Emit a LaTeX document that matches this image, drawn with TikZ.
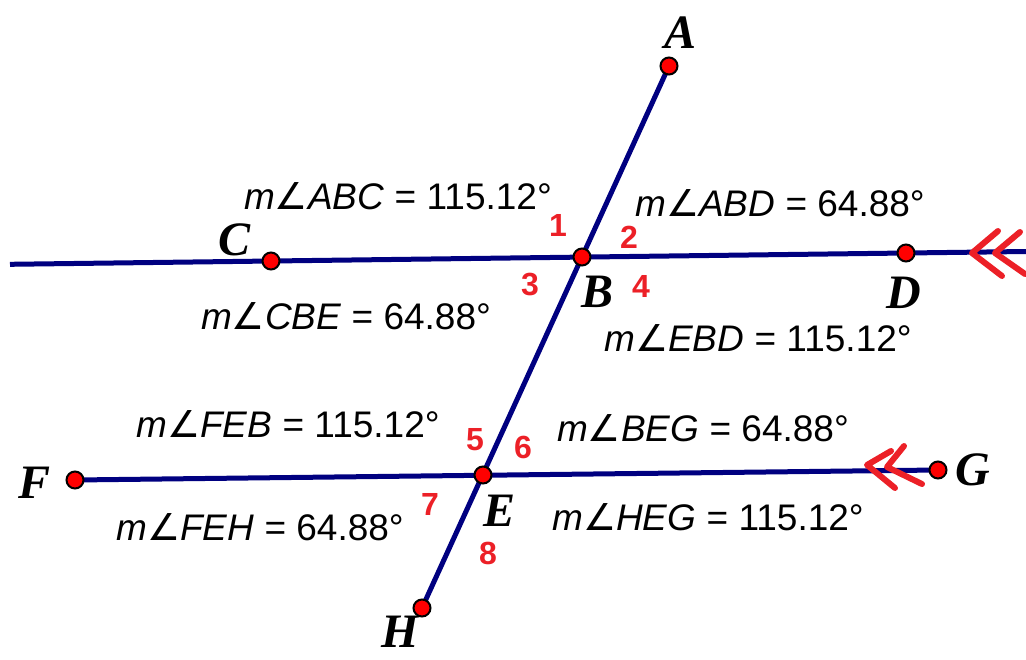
\documentclass[tikz,border=0pt]{standalone}
\usepackage{fontspec}
\setmainfont{Liberation Sans}
\newfontfamily\ptfont{Liberation Serif}
\newfontfamily\angfont{DejaVu Sans}
\usetikzlibrary{positioning}
\definecolor{plNavy}{HTML}{000080}
\definecolor{plRed}{HTML}{FF0000}
\definecolor{plMark}{HTML}{EC2027}
\newcommand{\mang}[2]{\textit{m}{\angfont\itshape ∠}\textit{#1} = #2°}
\tikzset{
  pl line/.style={draw=plNavy, line width=5pt},
  pl point/.style={circle, fill=plRed, draw=black, line width=2pt,
    minimum size=17pt, inner sep=0pt},
  pl name/.style={font=\ptfont\bfseries\itshape\fontsize{48}{48}\selectfont, inner sep=0pt},
  pl measure/.style={font=\fontsize{37}{40}\selectfont},
  pl index/.style={font=\bfseries\fontsize{32}{32}\selectfont, text=plMark},
  pl parallel/.style={draw=plMark, line width=6pt, line cap=round, line join=round}
}

\begin{document}
\begin{tikzpicture}[x=1pt,y=-1pt]
  \useasboundingbox (0,0) rectangle (1026,659);

  % points of the figure
  \coordinate (A) at (669,66);
  \coordinate (B) at (582,257);
  \coordinate (C) at (271,261);
  \coordinate (D) at (906,253);
  \coordinate (E) at (483,475);
  \coordinate (F) at (75,480);
  \coordinate (G) at (938,470);
  \coordinate (H) at (422,608);
  \coordinate (cdL) at (10,264.3);
  \coordinate (cdR) at (1026,251.5);

  % the two parallels and the transversal
  \draw[pl line] (cdL) -- (cdR);
  \draw[pl line] (F) -- (G);
  \draw[pl line] (A) -- (H);

  % parallel marks
  \draw[pl parallel] (998,231) -- (972,253) -- (1002,276);
  \draw[pl parallel] (1020,232) -- (995,253) -- (1025,274);
  \draw[pl parallel] (891,451) -- (867,465) -- (895,488);
  \draw[pl parallel] (904,446) -- (887,467) -- (922,484);

  \foreach \p in {A,B,C,D,E,F,G,H}
    \node[pl point] (pt\p) at (\p) {};

  \node[pl name] (labA) at (681,33) {A};
  \node[pl name] (labB) at (598,292) {B};
  \node[pl name] (labC) at (235,240) {C};
  \node[pl name] (labD) at (904,293) {D};
  \node[pl name] (labE) at (500,511) {E};
  \node[pl name] (labF) at (35,483) {F};
  \node[pl name] (labG) at (973,470) {G};
  \node[pl name] (labH) at (400,632) {H};

  % angle numbers
  \node[pl index] (n1) at (558,225) {1};
  \node[pl index] (n2) at (629,237) {2};
  \node[pl index] (n3) at (530,285) {3};
  \node[pl index] (n4) at (641,286) {4};
  \node[pl index] (n5) at (475,440) {5};
  \node[pl index] (n6) at (523,447) {6};
  \node[pl index] (n7) at (430,504) {7};
  \node[pl index] (n8) at (488,553) {8};

  % measurements
  \node[pl measure] (mABC) at (398,196) {\mang{ABC}{115.12}};
  \node[pl measure] (mABD) at (780,203) {\mang{ABD}{64.88}};
  \node[pl measure] (mCBE) at (346,316) {\mang{CBE}{64.88}};
  \node[pl measure] (mEBD) at (758,338) {\mang{EBD}{115.12}};
  \node[pl measure] (mFEB) at (288,424) {\mang{FEB}{115.12}};
  \node[pl measure] (mBEG) at (703,428) {\mang{BEG}{64.88}};
  \node[pl measure] (mFEH) at (260,527) {\mang{FEH}{64.88}};
  \node[pl measure] (mHEG) at (708,517) {\mang{HEG}{115.12}};
\end{tikzpicture}
\end{document}
